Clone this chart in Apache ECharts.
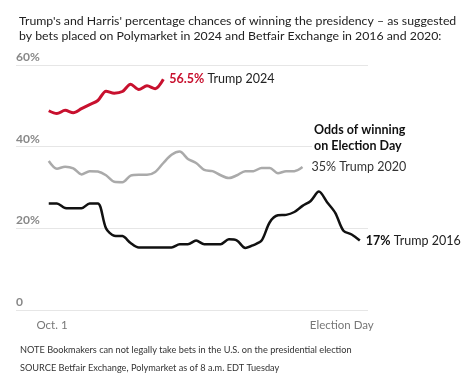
<!DOCTYPE html>
<html>
<head>
<meta charset="utf-8">
<script src="https://cdn.jsdelivr.net/npm/echarts@6/dist/echarts.min.js"></script>
<style>
html,body{margin:0;padding:0;background:#fff;}
#c{width:474px;height:388px;}
</style>
</head>
<body>
<div id="c"></div>
<script>
// Values: percentage chance, one value per day starting Oct. 1
var trump2024 = [48.8, 48.1, 48.9, 48.3, 49.3, 50.3, 51.3, 53.6, 53.1, 53.5, 55.3, 54.0, 54.9, 54.2, 56.5];
var trump2020 = [36.5, 34.6, 35.1, 34.7, 33.2, 34.0, 33.9, 33.0, 31.4, 31.3, 32.9, 33.1, 33.1, 33.8, 36.0, 38.0,
                 38.8, 37.0, 36.0, 34.3, 34.0, 33.0, 32.3, 33.0, 34.0, 34.0, 34.8, 34.8, 33.5, 34.0, 34.0, 35.0];
var trump2016 = [26.1, 26.1, 25.0, 24.9, 24.9, 26.1, 26.1, 20.0, 18.2, 18.1, 16.4, 15.3, 15.3, 15.3, 15.3, 15.3,
                 16.1, 16.1, 17.0, 16.1, 16.1, 16.1, 17.3, 17.0, 15.2, 15.9, 17.0, 21.5, 23.2, 23.3, 24.0, 25.5,
                 26.7, 29.0, 26.4, 23.8, 19.4, 18.5, 17.0];
var yTicks = [0, 20, 40, 60];
var xLabelValues = [0.4, 35.8];
var xLabelTexts = ['Oct. 1', 'Election Day'];
var endLabels = { '2024': ['56.5%', 'Trump 2024'], '2020': ['35%', 'Trump 2020'], '2016': ['17%', 'Trump 2016'] };

var FONT = 'Lato, "Open Sans", sans-serif';
function pts(arr){ return arr.map(function(v,i){ return [i, v]; }); }

var chart = echarts.init(document.getElementById('c'), null, {renderer:'canvas'});
chart.setOption({
  animation: false,
  backgroundColor: '#fff',
  textStyle: { fontFamily: FONT },
  title: {
    text: "Trump's and Harris' percentage chances of winning the presidency \u2013 as suggested\nby bets placed on Polymarket in 2024 and Betfair Exchange in 2016 and 2020:",
    left: 14, top: 9,
    textStyle: { fontFamily: FONT, fontSize: 12.3, fontWeight: 'normal', color: '#222', lineHeight: 15 }
  },
  grid: { left: 16, right: 106, top: 65, bottom: 78 },
  xAxis: {
    type: 'value', min: -4, max: 39,
    axisLine: { show: false }, axisTick: { show: false }, splitLine: { show: false },
    axisLabel: {
      customValues: xLabelValues,
      formatter: function(v){ var i = xLabelValues.indexOf(v); return i >= 0 ? xLabelTexts[i] : ''; },
      color: '#777', fontSize: 11.5, fontFamily: FONT, margin: 9
    }
  },
  yAxis: {
    type: 'value', min: 0, max: 60, interval: 20,
    axisLine: { show: false }, axisTick: { show: false },
    splitLine: { lineStyle: { color: '#e6e6e6', width: 1 } },
    axisLabel: {
      inside: true, margin: 0, verticalAlign: 'bottom', padding: [0,0,2,0],
      color: '#888', fontSize: 12, fontWeight: 'bold', fontFamily: FONT,
      formatter: function(v){ return yTicks.indexOf(v) >= 0 ? (v === 0 ? '0' : v + '%') : ''; }
    }
  },
  series: [
    {
      name: '2016', type: 'line', data: pts(trump2016), smooth: 0.3, symbol: 'none',
      lineStyle: { color: '#111', width: 2.5 }, z: 3,
      endLabel: { show: true, distance: 6, fontFamily: FONT,
        formatter: function(){ return '{b|' + endLabels['2016'][0] + '} {n|' + endLabels['2016'][1] + '}'; },
        rich: { b: { fontWeight: 'bold', fontSize: 12.5, color: '#111', fontFamily: FONT },
                n: { fontSize: 12.5, color: '#222', fontFamily: FONT } } }
    },
    {
      name: '2020', type: 'line', data: pts(trump2020), smooth: 0.3, symbol: 'none',
      lineStyle: { color: '#aaaaaa', width: 2.5 }, z: 2,
      endLabel: { show: true, distance: 9, fontFamily: FONT,
        formatter: function(){ return '{n|' + endLabels['2020'][0] + ' ' + endLabels['2020'][1] + '}'; },
        rich: { n: { fontSize: 12.5, color: '#333', fontFamily: FONT } } }
    },
    {
      name: '2024', type: 'line', data: pts(trump2024), smooth: 0.3, symbol: 'none',
      lineStyle: { color: '#c8102e', width: 3 }, z: 4,
      endLabel: { show: true, distance: 6, fontFamily: FONT,
        formatter: function(){ return '{b|' + endLabels['2024'][0] + '} {n|' + endLabels['2024'][1] + '}'; },
        rich: { b: { fontWeight: 'bold', fontSize: 12.5, color: '#c8102e', fontFamily: FONT },
                n: { fontSize: 12.5, color: '#222', fontFamily: FONT } } }
    }
  ],
  graphic: [
    { type: 'text', left: 312, top: 122, z: 10,
      style: { text: 'Odds of winning\non Election Day', font: 'bold 12.5px ' + FONT, fill: '#111', lineHeight: 16,
               backgroundColor: '#fff', padding: [0, 2, 0, 2] } },
    { type: 'text', left: 20, top: 346,
      style: { text: 'NOTE Bookmakers can not legally take bets in the U.S. on the presidential election', font: '9.2px ' + FONT, fill: '#333' } },
    { type: 'text', left: 20, top: 364,
      style: { text: 'SOURCE Betfair Exchange, Polymarket as of 8 a.m. EDT Tuesday', font: '9.2px ' + FONT, fill: '#333' } }
  ]
});
</script>
</body>
</html>
